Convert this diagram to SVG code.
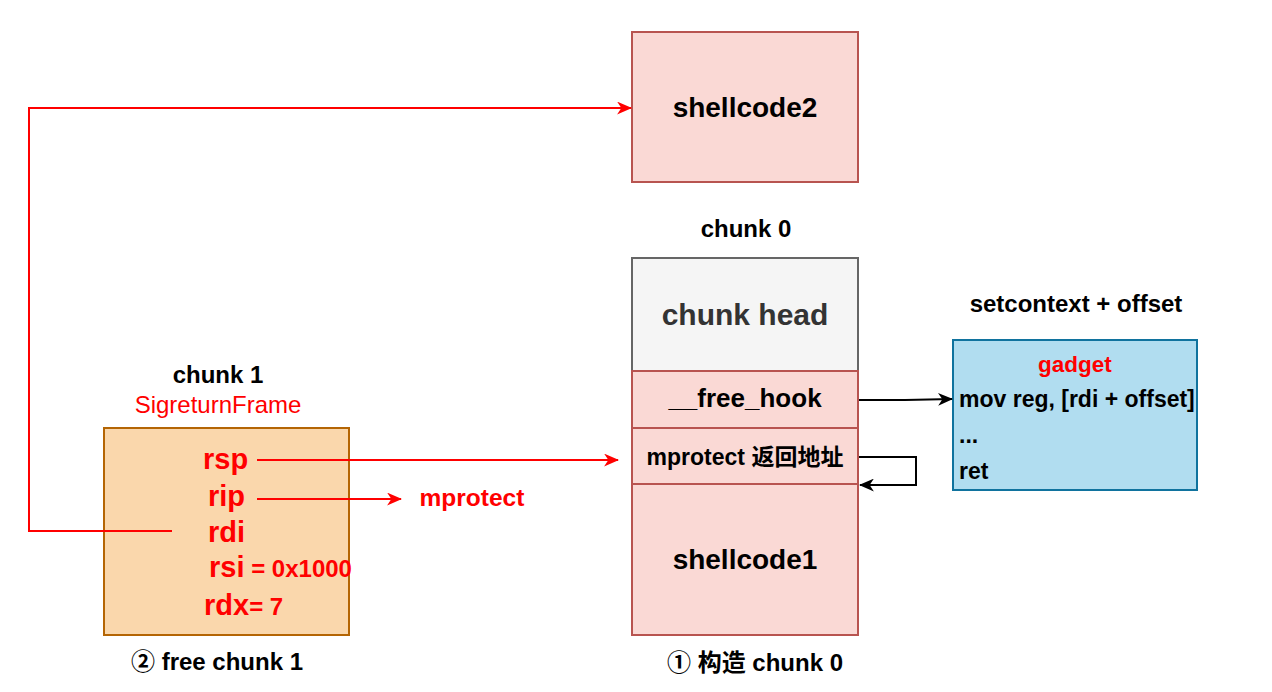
<svg xmlns="http://www.w3.org/2000/svg" width="1272" height="692" viewBox="0 0 1272 692">
<style>
text{font-family:"Liberation Sans",Arial,"Noto Sans CJK SC",sans-serif;}
.b{font-weight:bold;}
.red{fill:#ff0000;}
.blk{fill:#000000;}
.pink{fill:#fad9d5;stroke:#b85450;stroke-width:2;}
.head{fill:#f5f5f5;stroke:#666666;stroke-width:2;}
.orange{fill:#fad7ac;stroke:#b46504;stroke-width:2;}
.blue{fill:#b1ddf0;stroke:#10739e;stroke-width:2;}
.rl{fill:none;stroke:#ff0000;stroke-width:2;}
.bl{fill:none;stroke:#000000;stroke-width:2;}
</style>
<defs>
<marker id="ar" viewBox="0 0 14 12" refX="13" refY="6" markerWidth="15" markerHeight="13" orient="auto" markerUnits="userSpaceOnUse">
<path d="M0,0 L14,6 L0,12 L4,6 Z" fill="#ff0000"/>
</marker>
<marker id="ab" viewBox="0 0 14 12" refX="13" refY="6" markerWidth="15" markerHeight="13" orient="auto" markerUnits="userSpaceOnUse">
<path d="M0,0 L14,6 L0,12 L4,6 Z" fill="#000000"/>
</marker>
</defs>

<g id="shellcode2">
<rect class="pink" x="632" y="32" width="226" height="150"/>
<text class="b blk" x="745" y="117" font-size="28" text-anchor="middle">shellcode2</text>
</g>

<g id="chunk0-label">
<text class="b blk" x="746" y="237" font-size="24" text-anchor="middle">chunk 0</text>
</g>

<g id="chunk-head">
<rect class="head" x="632" y="258" width="226" height="113"/>
<text class="b" fill="#333333" x="745" y="325" font-size="30" text-anchor="middle">chunk head</text>
</g>

<g id="free-hook">
<rect class="pink" x="632" y="371" width="226" height="57"/>
<text class="b blk" x="745" y="407" font-size="26" text-anchor="middle">__free_hook</text>
</g>

<g id="mprotect-ret">
<rect class="pink" x="632" y="428" width="226" height="56"/>
<text class="b blk" x="745" y="465" font-size="23" text-anchor="middle">mprotect 返回地址</text>
</g>

<g id="shellcode1">
<rect class="pink" x="632" y="484" width="226" height="151"/>
<text class="b blk" x="745" y="569" font-size="28" text-anchor="middle">shellcode1</text>
</g>

<g id="step1">
<text class="b blk" x="755" y="671" font-size="24" text-anchor="middle">① 构造 chunk 0</text>
</g>

<g id="setcontext-label">
<text class="b blk" x="1076" y="312" font-size="24" text-anchor="middle">setcontext + offset</text>
</g>

<g id="gadget">
<rect class="blue" x="953" y="340" width="244" height="150"/>
<text class="b red" x="1075" y="372" font-size="22.5" text-anchor="middle">gadget</text>
<text class="b blk" x="959" y="407" font-size="23">mov reg, [rdi + offset]</text>
<text class="b blk" x="959" y="443" font-size="23">...</text>
<text class="b blk" x="959" y="479" font-size="23">ret</text>
</g>

<g id="chunk1-label">
<text class="b blk" x="218" y="383" font-size="24" text-anchor="middle">chunk 1</text>
<text class="red" x="218" y="413" font-size="24" text-anchor="middle">SigreturnFrame</text>
</g>

<g id="chunk1">
<rect class="orange" x="104" y="428" width="245" height="207"/>
<text class="b red" x="203" y="469" font-size="29">rsp</text>
<text class="b red" x="208" y="506" font-size="29">rip</text>
<text class="b red" x="208" y="542" font-size="29">rdi</text>
<text class="b red" x="209" y="577" font-size="29">rsi<tspan font-size="24"> = 0x1000</tspan></text>
<text class="b red" x="204" y="615" font-size="29">rdx<tspan font-size="24">= 7</tspan></text>
</g>

<g id="mprotect">
<text class="b red" x="472" y="506" font-size="24.5" text-anchor="middle">mprotect</text>
</g>

<g id="step2">
<text class="b blk" x="217" y="670" font-size="24" text-anchor="middle">② free chunk 1</text>
</g>

<g id="connectors">
<path class="rl" d="M257,460 L618,460" marker-end="url(#ar)"/>
<path class="rl" d="M257,499 L401,499" marker-end="url(#ar)"/>
<path class="rl" d="M172,531 L29,531 L29,108 L631,108" marker-end="url(#ar)"/>
<path class="bl" d="M859,400 L905,400 L952,399" marker-end="url(#ab)"/>
<path class="bl" d="M859,457 L916,457 L916,485 L860,485" marker-end="url(#ab)"/>
</g>
</svg>
